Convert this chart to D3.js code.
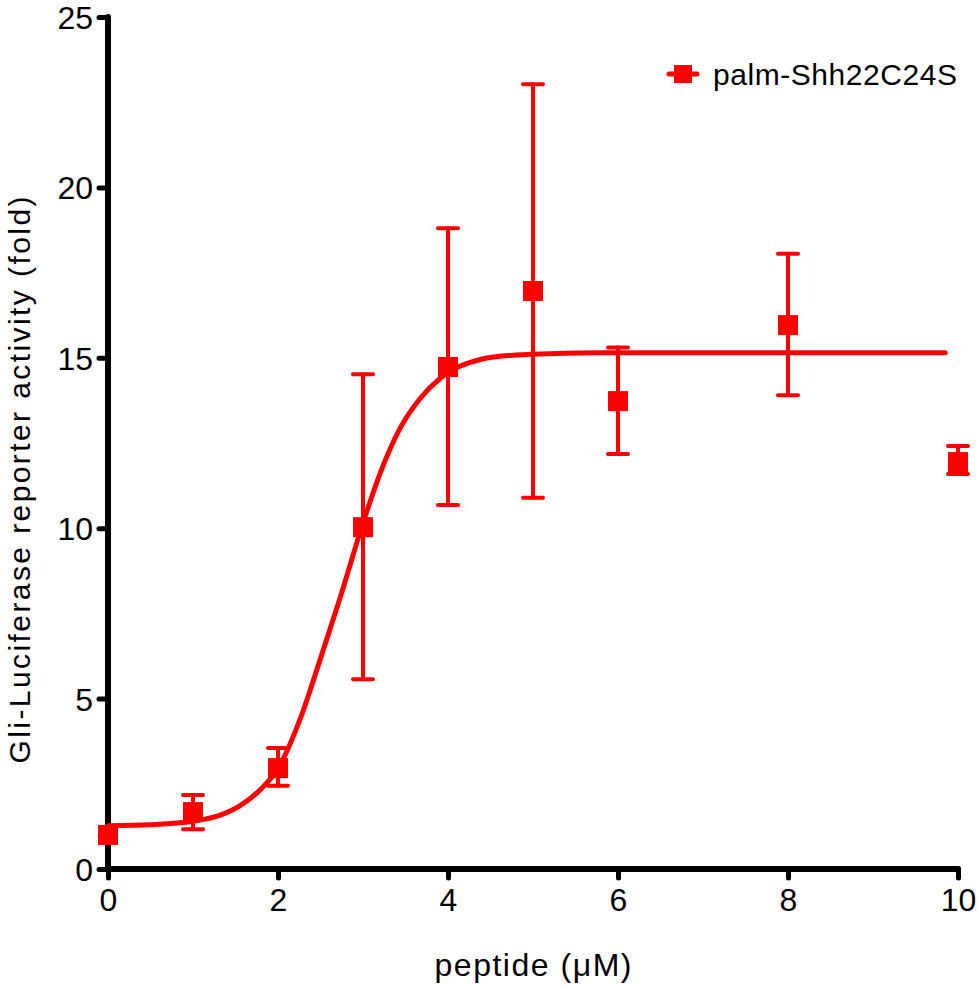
<!DOCTYPE html>
<html>
<head>
<meta charset="utf-8">
<script src="https://cdn.jsdelivr.net/npm/d3@7"></script>
<style>
  body { margin: 0; background: #fff; }
  text { font-family: "Liberation Sans", Arial, sans-serif; }
</style>
</head>
<body>
<script>
// measured points (peptide in uM, fold activity, error bar ends)
var doses = [0, 1, 2, 3, 4, 5, 6, 8, 10];
var means = [1.0, 1.67, 2.96, 10.03, 14.73, 16.96, 13.73, 15.96, 11.94];
var errLow = [1.0, 1.17, 2.44, 5.57, 10.68, 10.89, 12.18, 13.9, 11.59];
var errHigh = [1.0, 2.17, 3.55, 14.52, 18.8, 23.03, 15.3, 18.05, 12.41];

// fitted curve
var fitX = [0, 0.5, 1, 1.32, 1.55, 1.8, 2, 2.26, 2.49, 2.73, 3, 3.2, 3.44, 3.67, 3.91, 4.14, 4.38, 4.73, 5.2, 5.8, 7, 8.5, 9.85];
var fitY = [1.27, 1.3, 1.4, 1.58, 1.85, 2.35, 2.95, 4.4, 6.1, 7.95, 10.15, 11.6, 12.95, 13.8, 14.4, 14.75, 14.95, 15.07, 15.12, 15.15, 15.15, 15.15, 15.15];

var xTicks = [0, 2, 4, 6, 8, 10];
var yTicks = [0, 5, 10, 15, 20, 25];
var seriesName = "palm-Shh22C24S";

var width = 978, height = 987;
var margin = {top: 17, right: 20, bottom: 118, left: 108};
var red = "#ff0000";

var svg = d3.select("body").append("svg")
    .attr("width", width)
    .attr("height", height);

var x = d3.scaleLinear().domain([0, 10]).range([margin.left, width - margin.right]);
var y = d3.scaleLinear().domain([0, 25]).range([height - margin.bottom, margin.top]);

// axes
var xAxis = svg.append("g")
    .attr("transform", "translate(0," + y(0) + ")")
    .call(d3.axisBottom(x).tickValues(xTicks).tickSize(9).tickPadding(10).tickFormat(d3.format("d")));
var yAxis = svg.append("g")
    .attr("transform", "translate(" + x(0) + ",0)")
    .call(d3.axisLeft(y).tickValues(yTicks).tickSize(9).tickPadding(6).tickFormat(d3.format("d")));

[xAxis, yAxis].forEach(function(g){
  g.select(".domain").remove();
  g.selectAll(".tick line")
      .attr("stroke", "#000")
      .attr("stroke-width", 5)
      .attr("stroke-linecap", "round");
  g.selectAll(".tick text")
      .attr("fill", "#000")
      .style("font-size", "32px")
      .style("font-family", "'Liberation Sans', Arial, sans-serif");
});
xAxis.selectAll(".tick text").attr("dy", "0.71em");
yAxis.selectAll(".tick text").attr("dy", "0.36em");

// axis lines drawn thick with round ends
svg.append("line")
    .attr("x1", x(0)).attr("x2", x(0))
    .attr("y1", y(0)).attr("y2", y(25))
    .attr("stroke", "#000").attr("stroke-width", 6).attr("stroke-linecap", "round");
svg.append("line")
    .attr("x1", x(0)).attr("x2", x(10))
    .attr("y1", y(0)).attr("y2", y(0))
    .attr("stroke", "#000").attr("stroke-width", 6).attr("stroke-linecap", "round");

// axis titles
svg.append("text")
    .attr("x", (x(0) + x(10)) / 2)
    .attr("y", 976)
    .attr("text-anchor", "middle")
    .attr("textLength", 197)
    .attr("lengthAdjust", "spacing")
    .style("font-size", "32px")
    .text("peptide (\u03bcM)");

svg.append("text")
    .attr("transform", "translate(30," + 480 + ") rotate(-90)")
    .attr("text-anchor", "middle")
    .attr("textLength", 567)
    .attr("lengthAdjust", "spacing")
    .style("font-size", "30px")
    .text("Gli-Luciferase reporter activity (fold)");

// fitted curve
var fit = fitX.map(function(d, i){ return [d, fitY[i]]; });
svg.append("path")
    .datum(fit)
    .attr("fill", "none")
    .attr("stroke", red)
    .attr("stroke-width", 5)
    .attr("stroke-linecap", "round")
    .attr("d", d3.line()
        .x(function(d){ return x(d[0]); })
        .y(function(d){ return y(d[1]); })
        .curve(d3.curveMonotoneX));

// error bars
var pts = doses.map(function(d, i){
  return {x: d, y: means[i], lo: errLow[i], hi: errHigh[i]};
});
var capW = 10;
var eb = svg.append("g")
    .attr("stroke", red)
    .attr("stroke-width", 4)
    .attr("stroke-linecap", "round");
pts.filter(function(d){ return d.hi > d.lo; }).forEach(function(d){
  eb.append("line")
      .attr("x1", x(d.x)).attr("x2", x(d.x))
      .attr("y1", y(d.lo)).attr("y2", y(d.hi));
  eb.append("line")
      .attr("x1", x(d.x) - capW).attr("x2", x(d.x) + capW)
      .attr("y1", y(d.hi)).attr("y2", y(d.hi));
  eb.append("line")
      .attr("x1", x(d.x) - capW).attr("x2", x(d.x) + capW)
      .attr("y1", y(d.lo)).attr("y2", y(d.lo));
});

// markers
var ms = 20;
svg.append("g").selectAll("rect")
    .data(pts)
    .join("rect")
    .attr("x", function(d){ return x(d.x) - ms / 2; })
    .attr("y", function(d){ return y(d.y) - ms / 2; })
    .attr("width", ms)
    .attr("height", ms)
    .attr("fill", red);

// legend
var lg = svg.append("g").attr("transform", "translate(683,74)");
lg.append("line")
    .attr("x1", -14).attr("x2", 14)
    .attr("stroke", red).attr("stroke-width", 5).attr("stroke-linecap", "round");
lg.append("rect")
    .attr("x", -9).attr("y", -9).attr("width", 18).attr("height", 18)
    .attr("fill", red);
lg.append("text")
    .attr("x", 30)
    .attr("y", 11)
    .attr("textLength", 244)
    .attr("lengthAdjust", "spacing")
    .style("font-size", "30px")
    .text(seriesName);
</script>
</body>
</html>
